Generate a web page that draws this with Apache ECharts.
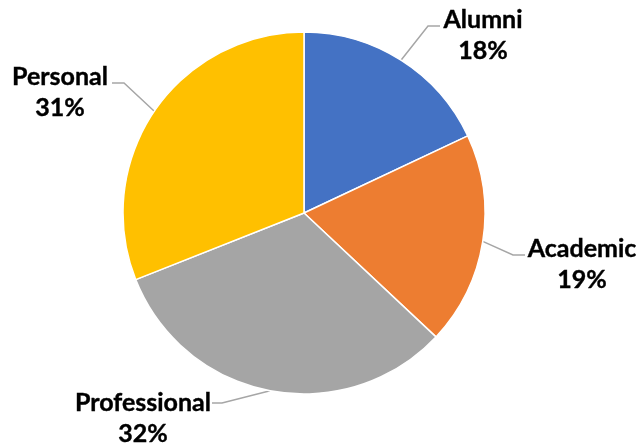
<!DOCTYPE html>
<html>
<head>
<meta charset="utf-8">
<script src="https://cdn.jsdelivr.net/npm/echarts@6/dist/echarts.min.js"></script>
<style>
html,body{margin:0;padding:0;background:#fff;}
#chart{width:638px;height:448px;}
</style>
</head>
<body>
<div id="chart"></div>
<script>
var categories = ['Alumni', 'Academic', 'Professional', 'Personal'];
var values = [18, 19, 32, 31];
var colors = ['#4472C4', '#ED7D31', '#A5A5A5', '#FFC000'];

// label block centres and leader-line elbows (layout only)
var labelPos = [
  {x: 483, y: 35, elbow: [428, 26], end: [440, 26]},
  {x: 582, y: 264, elbow: [513, 255], end: [525, 255]},
  {x: 143, y: 418, elbow: [222, 403], end: [212, 403]},
  {x: 60,  y: 92, elbow: [124, 83], end: [112, 83]}
];

var chart = echarts.init(document.getElementById('chart'));
chart.setOption({
  animation: false,
  color: colors,
  series: [{
    type: 'pie',
    center: [304, 213],
    radius: 181,
    startAngle: 90,
    clockwise: true,
    data: categories.map(function (c, i) { return {name: c, value: values[i]}; }),
    itemStyle: {borderColor: '#fff', borderWidth: 1.5},
    label: {
      show: true,
      formatter: '{b}\n{d}%',
      fontFamily: 'Lato',
      fontWeight: 'bold',
      fontSize: 25,
      lineHeight: 31,
      color: '#000',
      textBorderColor: '#000',
      textBorderWidth: 0.4,
      align: 'center',
      overflow: 'none'
    },
    labelLine: {show: true, length: 30, length2: 12, lineStyle: {color: '#A6A6A6', width: 1.5}},
    labelLayout: function (params) {
      var p = labelPos[params.dataIndex];
      var start = params.labelLinePoints ? params.labelLinePoints[0] : p.elbow;
      return {
        x: p.x,
        y: p.y,
        align: 'center',
        verticalAlign: 'middle',
        labelLinePoints: [start, p.elbow, p.end]
      };
    }
  }]
});
</script>
</body>
</html>
